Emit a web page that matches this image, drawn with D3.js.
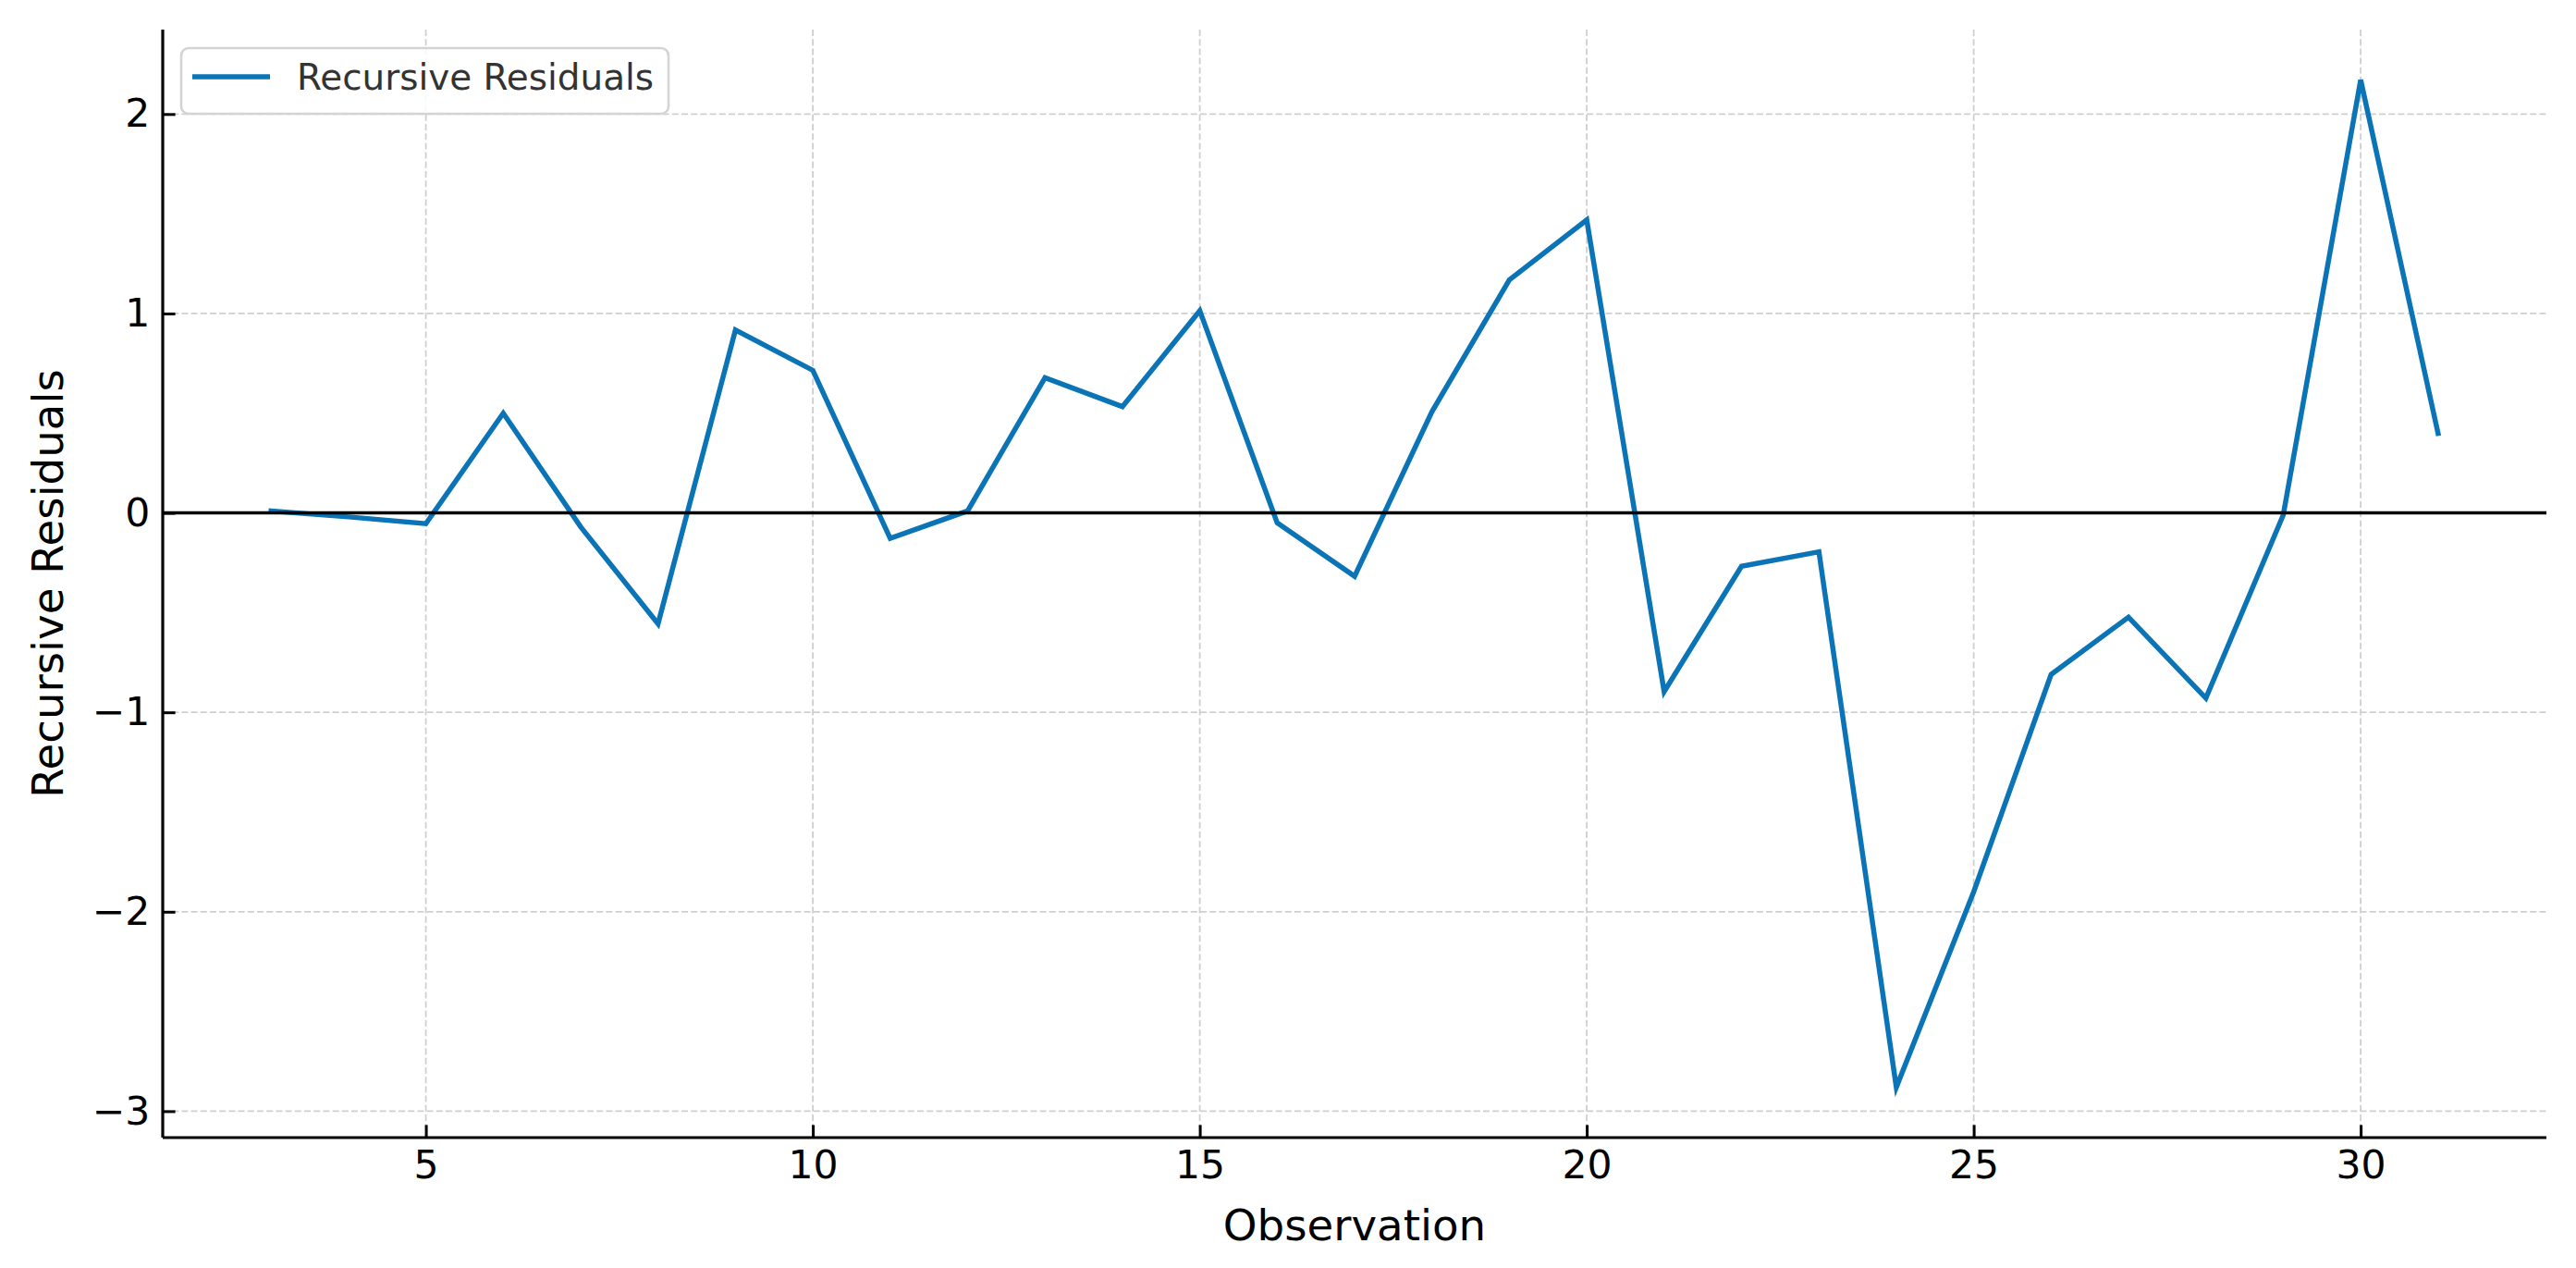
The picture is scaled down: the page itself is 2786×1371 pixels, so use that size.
<!DOCTYPE html>
<html>
<head>
<meta charset="utf-8">
<script src="https://cdn.jsdelivr.net/npm/d3@7"></script>
<style>
  html, body { margin: 0; padding: 0; background: #ffffff; }
  svg { display: block; }
  text { font-family: "DejaVu Sans", sans-serif; }
</style>
</head>
<body>
<script>
// ---- data ----
const observations = [3,4,5,6,7,8,9,10,11,12,13,14,15,16,17,18,19,20,21,22,23,24,25,26,27,28,29,30,31];
const residuals = [0.01,-0.02,-0.054,0.50,-0.07,-0.556,0.917,0.715,-0.128,0.01,0.678,0.533,1.014,-0.05,-0.318,0.508,1.169,1.469,-0.896,-0.268,-0.195,-2.88,-1.9,-0.81,-0.523,-0.929,-0.01,2.171,0.399];
const xTicks = [5,10,15,20,25,30];
const yTicks = [-3,-2,-1,0,1,2];
const seriesName = "Recursive Residuals";
const xLabel = "Observation";
const yLabel = "Recursive Residuals";

(function () {
// ---- layout ----
const W = 2786, H = 1371;
const pL = 176, pR = 2754, pT = 32, pB = 1230;

const svg = d3.select("body").append("svg").attr("width", W).attr("height", H);
svg.append("rect").attr("width", W).attr("height", H).attr("fill", "#ffffff");

function padded(ext) { const r = ext[1] - ext[0]; return [ext[0] - 0.05 * r, ext[1] + 0.05 * r]; }
const x = d3.scaleLinear().domain(padded(d3.extent(observations))).range([pL, pR]);
const y = d3.scaleLinear().domain(padded(d3.extent(residuals))).range([pB, pT]);

// grid
const grid = svg.append("g").attr("stroke", "#cfcfcf").attr("stroke-width", 1.8).attr("stroke-dasharray", "7,3.2");
grid.selectAll("line.gx").data(xTicks).join("line").attr("class", "gx")
  .attr("x1", d => x(d)).attr("x2", d => x(d)).attr("y1", pT).attr("y2", pB);
grid.selectAll("line.gy").data(yTicks).join("line").attr("class", "gy")
  .attr("x1", pL).attr("x2", pR).attr("y1", d => y(d)).attr("y2", d => y(d));

// series line
const line = d3.line().x((d, i) => x(observations[i])).y(d => y(d));
svg.append("path").datum(residuals)
  .attr("d", line).attr("fill", "none").attr("stroke", "#0a74b6")
  .attr("stroke-width", 5.5).attr("stroke-linejoin", "miter").attr("stroke-linecap", "square");

// zero line
svg.append("line").attr("x1", pL).attr("x2", pR).attr("y1", y(0)).attr("y2", y(0))
  .attr("stroke", "#000000").attr("stroke-width", 3.6);

// axes
const xAxis = d3.axisBottom(x).tickValues(xTicks).tickFormat(d3.format("d"))
  .tickSizeInner(-13.6).tickSizeOuter(0).tickPadding(13.6);
const yAxis = d3.axisLeft(y).tickValues(yTicks).tickFormat(d => d < 0 ? "\u2212" + Math.abs(d) : String(d))
  .tickSizeInner(-13.6).tickSizeOuter(0).tickPadding(13.6);

const gx = svg.append("g").attr("transform", `translate(0,${pB})`).call(xAxis);
const gy = svg.append("g").attr("transform", `translate(${pL},0)`).call(yAxis);
[gx, gy].forEach(g => {
  g.select(".domain").attr("stroke", "#000").attr("stroke-width", 3.2);
  g.selectAll(".tick line").attr("stroke", "#000").attr("stroke-width", 3);
  g.selectAll(".tick text").attr("fill", "#000").style("font-size", "42.5px")
    .style("font-family", "'DejaVu Sans', sans-serif");
});
gy.select(".domain").attr("d", `M0,${pB}V${pT}`);
gx.select(".domain").attr("d", `M${pL},0H${pR}`);

// axis labels
svg.append("text").attr("x", (pL + pR) / 2).attr("y", 1341)
  .attr("text-anchor", "middle").style("font-size", "46.7px").attr("fill", "#000").text(xLabel);
svg.append("text").attr("transform", `translate(68,${(pT + pB) / 2}) rotate(-90)`)
  .attr("text-anchor", "middle").style("font-size", "46.7px").attr("fill", "#000").text(yLabel);

// legend
const lg = svg.append("g");
lg.append("rect").attr("x", 196).attr("y", 52).attr("width", 527).attr("height", 71)
  .attr("rx", 8).attr("fill", "#ffffff").attr("fill-opacity", 0.85)
  .attr("stroke", "#d4d4d4").attr("stroke-width", 2.6);
lg.append("line").attr("x1", 208).attr("x2", 292).attr("y1", 83).attr("y2", 83)
  .attr("stroke", "#0a74b6").attr("stroke-width", 5.5);
lg.append("text").attr("x", 321).attr("y", 97).style("font-size", "38.9px")
  .attr("fill", "#333333").text(seriesName);
})();
</script>
</body>
</html>
